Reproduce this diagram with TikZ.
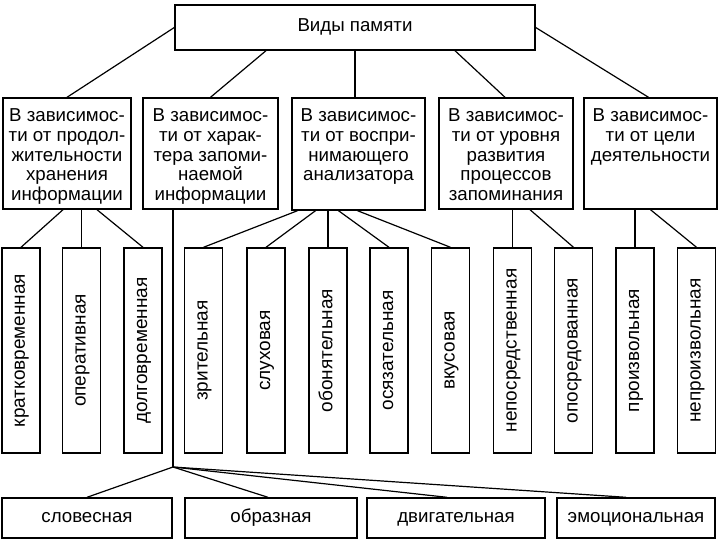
\documentclass[tikz,border=0pt]{standalone}
\usepackage{fontspec}
\setmainfont{Liberation Sans}
\usetikzlibrary{positioning,calc}

\newcommand{\vlabel}[1]{\rotatebox{90}{\rule[-5pt]{0pt}{18pt}#1}}

\begin{document}
\begin{tikzpicture}[
    x=1pt, y=-1pt,
    box/.style={draw, rectangle, line width=1.4pt, inner sep=0pt},
    catbox/.style={box, minimum width=133pt, minimum height=111pt},
    cattext/.style={anchor=north, align=center, inner sep=0pt, font=\fontsize{18.7}{19.7}\selectfont},
    vbox/.style={box, minimum width=38pt, minimum height=205pt, font=\fontsize{19}{20}\selectfont},
    bbox/.style={box, minimum height=40pt, text height=13pt, text depth=4pt, font=\fontsize{18.7}{20}\selectfont},
    line/.style={line width=1.2pt}
]
    \useasboundingbox (0,0) rectangle (720,540);

    % 1. Root (Top)
    \node[box, minimum width=360pt, minimum height=45pt, text height=13pt, text depth=4pt, font=\fontsize{18.7}{20}\selectfont] (root) at (355, 27.5) {Виды памяти};

    % 2. Criteria boxes
    \node[catbox, minimum width=128pt] (cat1) at (67, 153.5) {};
    \node[catbox, minimum width=135pt] (cat2) at (210.5, 153.5) {};
    \node[catbox, minimum height=112pt] (cat3) at (358.5, 154) {};
    \node[catbox, minimum width=134pt] (cat4) at (506, 153.5) {};
    \node[catbox] (cat5) at (650.5, 153.5) {};

    \node[cattext] (txt1) at ([yshift=-11.5pt]cat1.north) {В зависимос-\\ти от продол-\\жительности\\хранения\\информации};
    \node[cattext] (txt2) at ([yshift=-11.5pt]cat2.north) {В зависимос-\\ти от харак-\\тера запоми-\\наемой\\информации};
    \node[cattext] (txt3) at ([yshift=-11.5pt]cat3.north) {В зависимос-\\ти от воспри-\\нимающего\\анализатора};
    \node[cattext] (txt4) at ([yshift=-11.5pt]cat4.north) {В зависимос-\\ти от уровня\\развития\\процессов\\запоминания};
    \node[cattext] (txt5) at ([yshift=-11.5pt]cat5.north) {В зависимос-\\ти от цели\\деятельности};

    % 3. Kinds (vertical boxes)
    \node[vbox] (kratk) at (21, 350.5) {\vlabel{кратковременная}};
    \node[vbox] (oper) at (81.5, 350.5) {\vlabel{оперативная}};
    \node[vbox] (dolg) at (143, 350.5) {\vlabel{долговременная}};
    \node[vbox] (zrit) at (203.5, 350.5) {\vlabel{зрительная}};
    \node[vbox] (sluh) at (266, 350.5) {\vlabel{слуховая}};
    \node[vbox] (obon) at (328, 350.5) {\vlabel{обонятельная}};
    \node[vbox] (osyaz) at (389, 350.5) {\vlabel{осязательная}};
    \node[vbox] (vkus) at (450.5, 350.5) {\vlabel{вкусовая}};
    \node[vbox] (neposr) at (512.5, 350.5) {\vlabel{непосредственная}};
    \node[vbox] (oposr) at (573.5, 350.5) {\vlabel{опосредованная}};
    \node[vbox] (proizv) at (635, 350.5) {\vlabel{произвольная}};
    \node[vbox] (neproizv) at (696.5, 350.5) {\vlabel{непроизвольная}};

    % 4. Kinds by character of material (bottom row)
    \node[bbox, minimum width=170pt] (slov) at (87, 518) {словесная};
    \node[bbox, minimum width=172pt] (obraz) at (271, 518) {образная};
    \node[bbox, minimum width=178pt] (dvig) at (456, 518) {двигательная};
    \node[bbox, minimum width=158pt] (emoc) at (636, 518) {эмоциональная};

    % 5. Connections
    \draw[line] (root.west) -- (cat1.north);
    \draw[line] ([xshift=-89pt]root.south) -- (cat2.north);
    \draw[line] (root.south) -- (root.south |- cat3.north);
    \draw[line] ([xshift=100pt]root.south) -- ([xshift=-1pt]cat4.north);
    \draw[line] (root.east) -- ([xshift=-2pt]cat5.north);

    \draw[line] ([xshift=-4pt]cat1.south) -- (kratk.north);
    \draw[line] (oper.north |- cat1.south) -- (oper.north);
    \draw[line] ([xshift=30pt]cat1.south) -- (dolg.north);

    \draw[line] ([xshift=-61pt]cat3.south) -- (zrit.north);
    \draw[line] ([xshift=-43pt]cat3.south) -- (sluh.north);
    \draw[line] (obon.north |- cat3.south) -- (obon.north);
    \draw[line] ([xshift=-20pt]cat3.south) -- (osyaz.north);
    \draw[line] ([xshift=-1pt]cat3.south) -- (vkus.north);

    \draw[line] (neposr.north |- cat4.south) -- (neposr.north);
    \draw[line] ([xshift=24pt]cat4.south) -- (oposr.north);

    \draw[line] (proizv.north |- cat5.south) -- (proizv.north);
    \draw[line] (cat5.south) -- (neproizv.north);

    % Long stem from the second criterion down to the bottom row
    \coordinate (hub) at (173, 467);
    \draw[line] (cat2.south -| hub) -- (hub);
    \draw[line] (hub) -- (slov.north);
    \draw[line] (hub) -- ([xshift=-3pt]obraz.north);
    \draw[line] (hub) -- ([xshift=-9pt]dvig.north);
    \draw[line] (hub) -- ([xshift=-10pt]emoc.north);

\end{tikzpicture}
\end{document}
